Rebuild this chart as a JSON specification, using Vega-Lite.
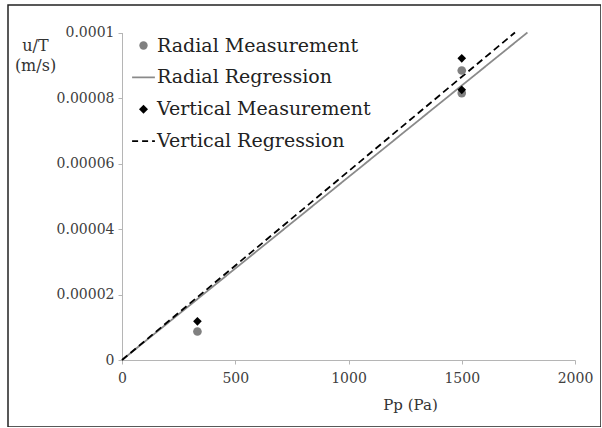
{
  "$schema": "https://vega.github.io/schema/vega-lite/v6.json",
  "width": 593,
  "height": 422,
  "autosize": {"type": "none"},
  "padding": {"left": 8, "top": 5, "right": 0, "bottom": 0},
  "background": "white",
  "config": {
    "font": "DejaVu Serif",
    "view": {"stroke": "#222222", "strokeWidth": 1.5},
    "axis": {
      "grid": false,
      "domainColor": "#b5b5b5",
      "tickColor": "#b5b5b5",
      "tickSize": 4,
      "labelFlush": false,
      "labelFont": "DejaVu Serif",
      "labelFontSize": 14,
      "labelColor": "#404040",
      "titleFont": "DejaVu Serif",
      "titleFontSize": 15,
      "titleFontWeight": "normal",
      "titleColor": "#333333"
    }
  },
  "data": {
    "values": [
      {"series": "Radial Measurement", "kind": "measurement", "Pp": 333, "uT": 0.0000087},
      {"series": "Radial Measurement", "kind": "measurement", "Pp": 1500, "uT": 0.0000884},
      {"series": "Radial Measurement", "kind": "measurement", "Pp": 1500, "uT": 0.0000815},
      {"series": "Vertical Measurement", "kind": "measurement", "Pp": 333, "uT": 0.0000118},
      {"series": "Vertical Measurement", "kind": "measurement", "Pp": 1500, "uT": 0.0000921},
      {"series": "Vertical Measurement", "kind": "measurement", "Pp": 1500, "uT": 0.0000825},
      {"series": "Radial Regression", "kind": "regression", "Pp": 0, "uT": 0},
      {"series": "Radial Regression", "kind": "regression", "Pp": 1790, "uT": 0.0001},
      {"series": "Vertical Regression", "kind": "regression", "Pp": 0, "uT": 0},
      {"series": "Vertical Regression", "kind": "regression", "Pp": 1735, "uT": 0.0001}
    ]
  },
  "encoding": {
    "x": {
      "field": "Pp",
      "type": "quantitative",
      "scale": {"domain": [0, 2000], "range": [114, 567], "nice": false, "zero": false},
      "axis": {
        "values": [0, 500, 1000, 1500, 2000],
        "format": "d",
        "offset": -67,
        "labelPadding": 7,
        "title": "Pp (Pa)",
        "titleX": 402,
        "titleY": 49,
        "titleAlign": "center",
        "titleBaseline": "alphabetic"
      }
    },
    "y": {
      "field": "uT",
      "type": "quantitative",
      "scale": {"domain": [0, 0.0001], "range": [355, 27.5], "nice": false, "zero": false},
      "axis": {
        "values": [0, 0.00002, 0.00004, 0.00006, 0.00008, 0.0001],
        "format": ".5~f",
        "offset": -114,
        "labelPadding": 4,
        "title": ["u/T", "(m/s)"],
        "titleFontSize": 16,
        "titleAngle": 0,
        "titleX": -87,
        "titleY": 45,
        "titleAlign": "center",
        "titleBaseline": "alphabetic",
        "titleLineHeight": 20
      }
    },
    "color": {
      "field": "series",
      "type": "nominal",
      "scale": {
        "domain": ["Radial Measurement", "Radial Regression", "Vertical Measurement", "Vertical Regression"],
        "range": ["#808080", "#8a8a8a", "#000000", "#000000"]
      },
      "legend": {
        "title": null,
        "orient": "none",
        "legendX": 126,
        "legendY": 31,
        "padding": 0,
        "symbolSize": 520,
        "symbolType": "stroke",
        "labelFont": "DejaVu Serif",
        "labelFontSize": 19,
        "labelColor": "#222222",
        "labelOffset": 4,
        "rowPadding": 11.9,
        "labelLimit": 400,
        "encode": {
          "symbols": {
            "update": {
              "shape": {"signal": "datum.value == 'Radial Measurement' ? 'circle' : datum.value == 'Vertical Measurement' ? 'diamond' : 'stroke'"},
              "size": {"signal": "datum.value == 'Radial Measurement' ? 70 : datum.value == 'Vertical Measurement' ? 80 : 520"},
              "fill": {"signal": "(datum.value == 'Radial Measurement' || datum.value == 'Vertical Measurement') ? scale('color', datum.value) : 'transparent'"},
              "stroke": {"signal": "scale('color', datum.value)"},
              "strokeWidth": {"signal": "(datum.value == 'Radial Measurement' || datum.value == 'Vertical Measurement') ? 0 : 1.8"},
              "strokeDash": {"signal": "datum.value == 'Vertical Regression' ? [6, 4] : [1, 0]"},
              "opacity": {"value": 1}
            }
          }
        }
      }
    }
  },
  "layer": [
    {
      "transform": [{"filter": "datum.kind == 'regression'"}],
      "mark": {"type": "line", "strokeWidth": 1.8},
      "encoding": {
        "strokeDash": {
          "field": "series",
          "type": "nominal",
          "scale": {"domain": ["Radial Regression", "Vertical Regression"], "range": [[1, 0], [7, 4]]},
          "legend": null
        }
      }
    },
    {
      "transform": [{"filter": "datum.kind == 'measurement'"}],
      "mark": {"type": "point", "filled": true, "opacity": 1, "size": 75},
      "encoding": {
        "shape": {
          "field": "series",
          "type": "nominal",
          "scale": {"domain": ["Radial Measurement", "Vertical Measurement"], "range": ["circle", "diamond"]},
          "legend": null
        }
      }
    }
  ]
}
